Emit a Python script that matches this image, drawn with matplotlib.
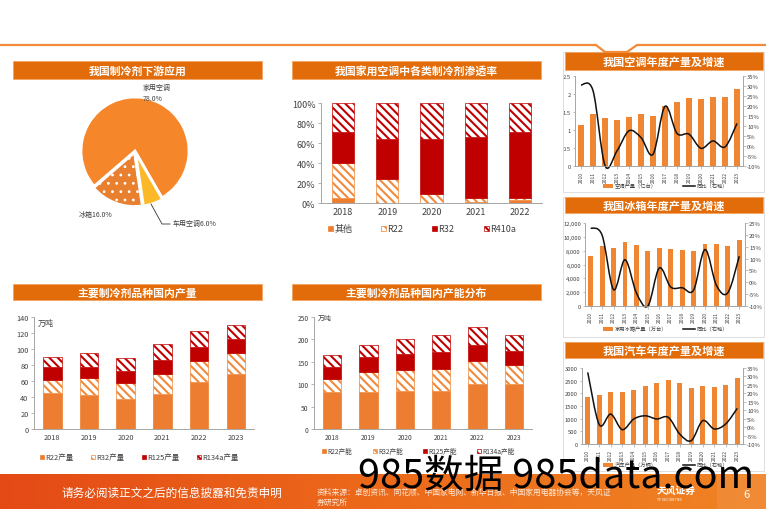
import numpy as np
import matplotlib
matplotlib.use("Agg")
import matplotlib.pyplot as plt
from matplotlib.patches import Rectangle, PathPatch
from matplotlib.path import Path
from matplotlib.lines import Line2D
from matplotlib.colors import LinearSegmentedColormap

plt.rcParams['font.family'] = ['Noto Sans CJK SC', 'DejaVu Sans']
plt.rcParams['hatch.linewidth'] = 1.5
plt.rcParams['axes.unicode_minus'] = False

# ---------------- data ----------------
pie_labels = ['家用空调', '冰箱', '车用空调']
pie_vals = [78.0, 16.0, 6.0]

pen_years = ['2018', '2019', '2020', '2021', '2022']
pen_other = [5, 0, 0, 1, 3]
pen_r22 = [35, 24, 9, 4, 2]
pen_r32 = [31, 40, 55, 61, 66]
pen_r410a = [29, 36, 36, 34, 29]

years6 = ['2018', '2019', '2020', '2021', '2022', '2023']
prod_r22 = [44.7, 43.0, 37.2, 43.9, 59.0, 68.5]
prod_r32 = [16.3, 21.0, 20.8, 24.6, 25.4, 25.9]
prod_r125 = [16.3, 14.0, 14.3, 18.0, 18.0, 18.0]
prod_r134a = [12.1, 16.4, 16.3, 19.5, 20.0, 18.0]

cap_r22 = [82.0, 83.6, 85.0, 85.0, 100.7, 100.7]
cap_r32 = [30.7, 43.3, 45.6, 50.0, 50.0, 42.3]
cap_r125 = [26.1, 32.8, 36.4, 36.0, 36.6, 30.9]
cap_r134a = [26.2, 28.3, 33.7, 39.4, 40.3, 35.8]

years14 = [str(y) for y in range(2010, 2024)]
ac_prod = [1.15, 1.46, 1.34, 1.28, 1.38, 1.44, 1.39, 1.68, 1.79, 1.90, 1.88, 1.94, 1.94, 2.16]
ac_yoy = [30.8, 27.9, -9.7, -2.4, 7.7, 4.3, -4.1, 20.0, 6.4, 6.0, -1.1, 2.6, -0.4, 11.4]
fr_prod = [7248, 8640, 8352, 9216, 8784, 7968, 8448, 8304, 8112, 7920, 8976, 8976, 8640, 9600]
fr_yoy = [22.9, 19.8, -3.1, 9.5, -4.5, -10.0, 6.0, -2.0, -2.3, -3.3, 13.8, -1.3, -4.4, 11.0]
car_prod = [1868, 1934, 2066, 2039, 2145, 2276, 2395, 2526, 2395, 2197, 2276, 2263, 2329, 2592]
car_yoy = [32.4, 1.5, 7.7, -1.5, 4.8, 6.7, 4.8, 5.8, -4.1, -8.0, 3.8, -1.1, 1.9, 11.1]

# ---------------- style ----------------
ORANGE = '#ED7D31'
BAR_OR = '#EF8633'
RED = '#C00000'
HATCH_OR = '#F08A3C'
TITLE = '#E36C0A'
GREY = '#A6A6A6'
TXT = '#404040'
HB = '\\\\\\\\'

W, H = 766, 510
fig = plt.figure(figsize=(W / 100, H / 100), dpi=100)
fig.patch.set_facecolor('white')


def fx(x):
    return x / W


def fy(y):
    return 1 - y / H


def add_ax(x0, y0, x1, y1):
    return fig.add_axes([x0 / W, 1 - y1 / H, (x1 - x0) / W, (y1 - y0) / H])


def frect(x0, y0, x1, y1, **kw):
    r = Rectangle((x0 / W, 1 - y1 / H), (x1 - x0) / W, (y1 - y0) / H,
                  transform=fig.transFigure, **kw)
    fig.add_artist(r)
    return r


def title_bar(x0, y0, x1, y1, text, fs=8):
    frect(x0, y0, x1, y1, facecolor=TITLE, edgecolor='#F4A460', lw=0.6)
    fig.text(fx((x0 + x1) / 2), fy((y0 + y1) / 2), text, color='white',
             fontsize=fs, fontweight='bold', ha='center', va='center')


def leg_item(x, y, s, face, edge, hatch, label, fs):
    frect(x, y - s / 2, x + s, y + s / 2, facecolor=face, edgecolor=edge,
          hatch=hatch, lw=0.5)
    fig.text(fx(x + s + 1.5), fy(y), label, fontsize=fs, color=TXT,
             ha='left', va='center')


def smooth_path(xs, ys):
    pts = list(zip(xs, ys))
    n = len(pts)
    verts = [pts[0]]
    codes = [Path.MOVETO]
    for i in range(n - 1):
        p0 = pts[i - 1] if i > 0 else pts[i]
        p1 = pts[i]
        p2 = pts[i + 1]
        p3 = pts[i + 2] if i + 2 < n else pts[i + 1]
        c1 = (p1[0] + (p2[0] - p0[0]) / 6, p1[1] + (p2[1] - p0[1]) / 6)
        c2 = (p2[0] - (p3[0] - p1[0]) / 6, p2[1] - (p3[1] - p1[1]) / 6)
        verts += [c1, c2, p2]
        codes += [Path.CURVE4] * 3
    return Path(verts, codes)


def style_left(ax, fs):
    for s in ['top', 'right']:
        ax.spines[s].set_visible(False)
    for s in ['left', 'bottom']:
        ax.spines[s].set_color(GREY)
        ax.spines[s].set_linewidth(0.7)
    ax.tick_params(axis='y', length=2, width=0.6, color=GREY, labelsize=fs,
                   labelcolor=TXT, pad=2)
    ax.tick_params(axis='x', length=0, labelsize=fs, labelcolor=TXT, pad=3)
    ax.set_facecolor('none')


# ---------------- top decoration ----------------
fig.add_artist(Line2D([0, fx(596), fx(605), fx(627), fx(637), 1],
                      [fy(46), fy(46), fy(53), fy(53), fy(46), fy(46)],
                      transform=fig.transFigure, color='#F28A3A', lw=1.6))

# ---------------- chart 1: pie ----------------
title_bar(13, 62, 262, 80, '我国制冷剂下游应用', 7.8)
R = 54
axp = add_ax(135 - R, 152 - R, 135 + R, 152 + R)
wedges, _ = axp.pie(pie_vals, startangle=-60, counterclock=True,
                    colors=['#F5862A', '#E8802F', '#FBB829'],
                    explode=[0, 0.03, 0.03],
                    wedgeprops=dict(edgecolor='white', linewidth=2))
wedges[1].set_hatch('..')
try:
    wedges[1].set_hatch_linewidth(0.8)
except Exception:
    pass
for w in wedges:
    w.set_clip_on(False)
axp.set_xlim(-1, 1)
axp.set_ylim(-1, 1)
axp.set_aspect('equal')
axp.axis('off')
fig.text(fx(143), fy(88), pie_labels[0], fontsize=5, color=TXT, va='center')
fig.text(fx(143), fy(99), f'{pie_vals[0]:.1f}%', fontsize=5, color=TXT, va='center')
fig.text(fx(79), fy(215), f'{pie_labels[1]}{pie_vals[1]:.1f}%', fontsize=5,
         color=TXT, va='center')
fig.text(fx(173), fy(224), f'{pie_labels[2]}{pie_vals[2]:.1f}%', fontsize=5,
         color=TXT, va='center')
fig.add_artist(Line2D([fx(151), fx(162), fx(170)], [fy(205), fy(225), fy(225)],
                      transform=fig.transFigure, color='#333333', lw=0.6))

# ---------------- chart 2: penetration ----------------
title_bar(292, 62, 541, 80, '我国家用空调中各类制冷剂渗透率', 7.8)
ax2 = add_ax(321, 104, 542, 204)
x = np.arange(len(pen_years))
b0 = np.zeros(len(x))
ax2.bar(x, pen_other, 0.5, bottom=b0, color=ORANGE, edgecolor=ORANGE, lw=0.5)
b0 = b0 + np.array(pen_other)
ax2.bar(x, pen_r22, 0.5, bottom=b0, facecolor='white', edgecolor=HATCH_OR,
        hatch=HB, lw=0.5)
b0 = b0 + np.array(pen_r22)
ax2.bar(x, pen_r32, 0.5, bottom=b0, color=RED, edgecolor=RED, lw=0.5)
b0 = b0 + np.array(pen_r32)
ax2.bar(x, pen_r410a, 0.5, bottom=b0, facecolor='white', edgecolor=RED,
        hatch=HB, lw=0.5)
ax2.set_xlim(-0.5, len(x) - 0.5)
ax2.set_ylim(0, 100)
ax2.set_yticks(range(0, 101, 20))
ax2.set_yticklabels([f'{v}%' for v in range(0, 101, 20)])
ax2.set_xticks(x)
ax2.set_xticklabels(pen_years)
style_left(ax2, 6.5)
leg_item(328, 229.5, 5, ORANGE, ORANGE, None, '其他', 6.5)
leg_item(381, 229.5, 5, 'white', HATCH_OR, HB, 'R22', 6.5)
leg_item(432, 229.5, 5, RED, RED, None, 'R32', 6.5)
leg_item(484, 229.5, 5, 'white', RED, HB, 'R410a', 6.5)

# ---------------- chart 3: production ----------------
title_bar(13, 285, 262, 301, '主要制冷剂品种国内产量', 7.8)
ax3 = add_ax(34, 318, 254, 430)
x = np.arange(len(years6))
b = np.zeros(len(x))
ax3.bar(x, prod_r22, 0.5, bottom=b, color=ORANGE, edgecolor=ORANGE, lw=0.5)
b = b + np.array(prod_r22)
ax3.bar(x, prod_r32, 0.5, bottom=b, facecolor='white', edgecolor=HATCH_OR, hatch=HB, lw=0.5)
b = b + np.array(prod_r32)
ax3.bar(x, prod_r125, 0.5, bottom=b, color=RED, edgecolor=RED, lw=0.5)
b = b + np.array(prod_r125)
ax3.bar(x, prod_r134a, 0.5, bottom=b, facecolor='white', edgecolor=RED, hatch=HB, lw=0.5)
ax3.set_xlim(-0.5, len(x) - 0.5)
ax3.set_ylim(0, 140)
ax3.set_yticks(range(0, 141, 20))
ax3.set_xticks(x)
ax3.set_xticklabels(years6)
style_left(ax3, 5.3)
fig.text(fx(38), fy(323), '万吨', fontsize=5.8, color=TXT, va='center')
leg_item(40, 458, 4, ORANGE, ORANGE, None, 'R22产量', 5.4)
leg_item(91, 458, 4, 'white', HATCH_OR, HB, 'R32产量', 5.4)
leg_item(142, 458, 4, RED, RED, None, 'R125产量', 5.4)
leg_item(197, 458, 4, 'white', RED, HB, 'R134a产量', 5.4)

# ---------------- chart 4: capacity ----------------
title_bar(292, 285, 541, 301, '主要制冷剂品种国内产能分布', 7.8)
ax4 = add_ax(314, 318, 532, 430)
b = np.zeros(len(x))
ax4.bar(x, cap_r22, 0.5, bottom=b, color=ORANGE, edgecolor=ORANGE, lw=0.5)
b = b + np.array(cap_r22)
ax4.bar(x, cap_r32, 0.5, bottom=b, facecolor='white', edgecolor=HATCH_OR, hatch=HB, lw=0.5)
b = b + np.array(cap_r32)
ax4.bar(x, cap_r125, 0.5, bottom=b, color=RED, edgecolor=RED, lw=0.5)
b = b + np.array(cap_r125)
ax4.bar(x, cap_r134a, 0.5, bottom=b, facecolor='white', edgecolor=RED, hatch=HB, lw=0.5)
ax4.set_xlim(-0.5, len(x) - 0.5)
ax4.set_ylim(0, 250)
ax4.set_yticks(range(0, 251, 50))
ax4.set_xticks(x)
ax4.set_xticklabels(years6)
style_left(ax4, 4.8)
fig.text(fx(318), fy(319), '万吨', fontsize=5, color=TXT, va='center')
leg_item(322, 452, 4, ORANGE, ORANGE, None, 'R22产能', 4.8)
leg_item(373, 452, 4, 'white', HATCH_OR, HB, 'R32产能', 4.8)
leg_item(423, 452, 4, RED, RED, None, 'R125产能', 4.8)
leg_item(477, 452, 4, 'white', RED, HB, 'R134a产能', 4.8)


# ---------------- right charts ----------------
def right_chart(box, title_y, title, prod, yoy, ylim, yticks, ylabels,
                rlim, rticks, legy, bar_label):
    x0, y0, x1, y1 = box
    title_bar(565, title_y[0], 763, title_y[1], title, 8)
    ax = add_ax(x0, y0, x1, y1)
    xx = np.arange(len(years14))
    ax.bar(xx, prod, 0.42, color=BAR_OR, lw=0)
    ax.set_xlim(-0.5, len(xx) - 0.5)
    ax.set_ylim(*ylim)
    ax.set_yticks(yticks)
    ax.set_yticklabels(ylabels)
    ax.set_xticks(xx)
    ax.set_xticklabels(years14, rotation=90)
    axr = ax.twinx()
    axr.add_patch(PathPatch(smooth_path(xx, yoy), fill=False, edgecolor='#111111',
                            lw=1.1, transform=axr.transData, clip_on=False))
    axr.set_ylim(*rlim)
    axr.set_yticks(rticks)
    axr.set_yticklabels([f'{v}%' for v in rticks])
    for a in (ax, axr):
        a.spines['top'].set_visible(False)
        for s in ['left', 'right', 'bottom']:
            a.spines[s].set_color(GREY)
            a.spines[s].set_linewidth(0.6)
        a.tick_params(axis='both', length=1.8, width=0.5, color=GREY,
                      labelsize=4.2, labelcolor=TXT, pad=1.2)
    ax.tick_params(axis='x', labelsize=3.6, pad=1.5)
    ax.set_facecolor('none')
    # legend
    frect(603, legy - 2, 613, legy + 2, facecolor=BAR_OR, edgecolor='none')
    fig.text(fx(615), fy(legy), bar_label, fontsize=3.8, color=TXT, va='center')
    fig.add_artist(Line2D([fx(683), fx(695)], [fy(legy), fy(legy)],
                          transform=fig.transFigure, color='#111111', lw=1.1))
    fig.text(fx(697), fy(legy), '同比（右轴）', fontsize=3.8, color=TXT, va='center')


# panel borders
for (py0, py1) in [(53, 193), (198, 338), (343, 472)]:
    frect(563, py0, 764, py1, facecolor='none', edgecolor='#D9D9D9', lw=0.6)

right_chart((575, 77.5, 743, 167), (53, 71), '我国空调年度产量及增速',
            ac_prod, ac_yoy, (0, 2.5), [0, 0.5, 1, 1.5, 2, 2.5],
            ['0', '0.5', '1', '1.5', '2', '2.5'],
            (-10, 35), list(range(-10, 36, 5)), 187, '空调产量（亿台）')
right_chart((585, 224, 745, 307), (198, 214), '我国冰箱年度产量及增速',
            fr_prod, fr_yoy, (0, 12000), list(range(0, 12001, 2000)),
            [f'{v:,}' for v in range(0, 12001, 2000)],
            (-10, 25), list(range(-10, 26, 5)), 330, '家用冰箱产量（万台）')
right_chart((582, 369, 743, 445), (343, 359), '我国汽车年度产量及增速',
            car_prod, car_yoy, (0, 3000), list(range(0, 3001, 500)),
            [str(v) for v in range(0, 3001, 500)],
            (-10, 35), list(range(-10, 36, 5)), 466, '汽车产量（万辆）')

# ---------------- footer ----------------
axf = fig.add_axes([0, 0, 1, 35 / H])
grad = np.linspace(0, 1, 256).reshape(1, -1)
cm = LinearSegmentedColormap.from_list('f', ['#E44A16', '#EC6A1A', '#F08424'])
axf.imshow(grad, aspect='auto', cmap=cm, extent=(0, 1, 0, 1))
axf.axis('off')
frect(717, 475, 766, 510, facecolor='#F29040', edgecolor='none', alpha=0.6)
fig.text(fx(61), fy(493), '请务必阅读正文之后的信息披露和免责申明', fontsize=8.4,
         color='white', va='center')
fig.text(fx(317), fy(493), '资料来源：卓创资讯、同花顺、中国家电网、新华日报、中国家用电器协会等，天风证',
         fontsize=5.6, color='#FFE8D6', va='center')
fig.text(fx(317), fy(503), '券研究所', fontsize=5.6, color='#FFE8D6', va='center')
fig.text(fx(657), fy(491), '天风证券', fontsize=7, color='white',
         fontweight='bold', va='center')
fig.text(fx(657), fy(500), 'TF SECURITIES', fontsize=2.6, color='white', va='center')
fig.text(fx(743), fy(495), '6', fontsize=8, color='white', va='center')

# watermark
fig.text(fx(358), fy(488), '985数据 985data.com', fontsize=28.5, color='black',
         va='baseline', ha='left')

fig.savefig('out.png', dpi=100)
